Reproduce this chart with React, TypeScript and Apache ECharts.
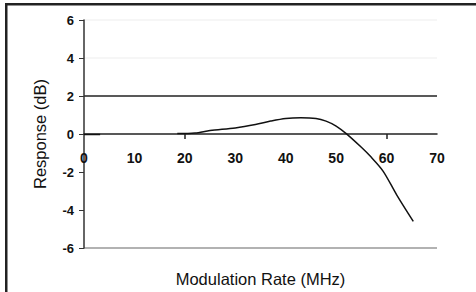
import React, { useEffect, useRef } from "react";
import * as echarts from "echarts";

const rateMHz: (number)[] = [0, 3.2, 10, 18.5, 22, 25, 30, 34, 37, 40, 43, 46, 48, 50, 52, 55, 56.7, 59.3, 62, 65.3];
const responseDb: (number | null)[] = [-0.02, -0.02, null, 0.02, 0.05, 0.18, 0.32, 0.5, 0.68, 0.82, 0.86, 0.82, 0.68, 0.42, 0.02, -0.7, -1.15, -1.95, -3.2, -4.6];
const xTicks = [0, 10, 20, 30, 40, 50, 60, 70];
const yTicks = [-6, -4, -2, 0, 2, 4, 6];
const xTitle = "Modulation Rate (MHz)";
const yTitle = "Response (dB)";

export default function App() {
  const ref = useRef<HTMLDivElement>(null);
  useEffect(() => {
    if (!ref.current) return;
    const chart = echarts.init(ref.current, undefined, { renderer: "svg" });
    const data = rateMHz.map((x, i) => [x, responseDb[i]]);
    chart.setOption({
      animation: false,
      backgroundColor: "#fff",
      textStyle: { fontFamily: "Liberation Sans, Arial, sans-serif" },
      grid: { left: 84, right: 39, top: 20, bottom: 44, containLabel: false, outerBoundsMode: "none" },
      xAxis: {
        type: "value",
        position: "bottom",
        offset: -114,
        min: xTicks[0],
        max: xTicks[xTicks.length - 1],
        interval: 10,
        name: xTitle,
        nameLocation: "middle",
        nameGap: 136,
        nameTextStyle: { fontSize: 16.5, color: "#111" },
        axisLine: { onZero: false, lineStyle: { color: "#222", width: 1.5 } },
        axisTick: { show: true, length: 5, customValues: [20, 60], lineStyle: { color: "#222", width: 1.5 } },
        axisLabel: { margin: 17, fontSize: 14, fontWeight: "bold", color: "#111" },
        splitLine: { show: false },
      },
      yAxis: {
        type: "value",
        min: yTicks[0],
        max: yTicks[yTicks.length - 1],
        interval: 2,
        name: yTitle,
        nameLocation: "middle",
        nameGap: 36,
        nameTextStyle: { fontSize: 16.5, color: "#111" },
        axisLine: { show: true, onZero: false, lineStyle: { color: "#333", width: 1.5 } },
        axisTick: { show: true, length: 5, lineStyle: { color: "#333" } },
        axisLabel: { margin: 10, fontSize: 13, fontWeight: "bold", color: "#111" },
        splitLine: {
          show: true,
          lineStyle: {
            color: ["#999", "rgba(0,0,0,0)", "rgba(0,0,0,0)", "rgba(0,0,0,0)", "#222", "#f3f3f3", "#f3f3f3"],
            width: 1.5,
          },
        },
      },
      series: [
        {
          type: "line",
          data,
          smooth: 0.3,
          connectNulls: false,
          showSymbol: false,
          lineStyle: { color: "#111", width: 1.5 },
        },
      ],
      graphic: [
        { type: "rect", shape: { x: 5, y: 3, width: 471, height: 2.5 }, style: { fill: "#222" } },
        { type: "rect", shape: { x: 5, y: 3, width: 2.5, height: 289 }, style: { fill: "#222" } },
      ],
    });
    return () => chart.dispose();
  }, []);
  return <div ref={ref} style={{ position: "fixed", left: 0, top: 0, width: 476, height: 292 }} />;
}
